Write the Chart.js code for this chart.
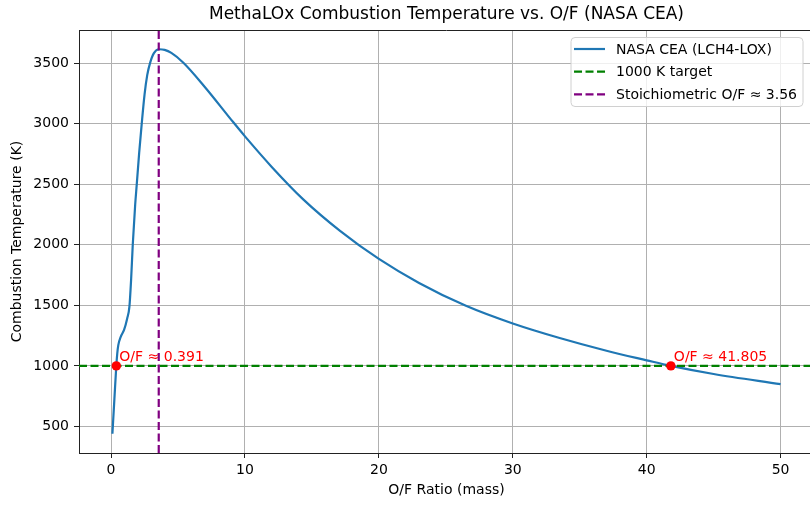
<!DOCTYPE html>
<html>
<head>
<meta charset="utf-8">
<title>MethaLOx Combustion Temperature vs. O/F</title>
<script src="https://cdn.jsdelivr.net/npm/chart.js@4"></script>
<style>
  html, body { margin: 0; padding: 0; background: #fff; overflow: hidden; }
  canvas { display: block; }
</style>
</head>
<body>
<canvas id="myChart" width="840" height="505"></canvas>
<script>
// NASA CEA results for LCH4/LOX: O/F ratio (mass) vs combustion temperature (K)
const ofRatio = [0.1, 0.25, 0.391, 0.46, 0.54, 0.72, 0.97, 1.2, 1.37, 1.5, 1.62, 1.8, 1.92, 2.1, 2.29,
  2.5, 2.7, 2.91, 3.2, 3.6, 4.0, 4.5, 5.4, 7.0, 9.1, 10, 12, 14.35, 17.1, 20, 23, 26.5, 30,
  33.5, 37, 40, 41.805, 45, 50];
const tempK = [440, 730, 1000, 1100, 1172, 1240, 1297, 1390, 1489, 1720, 2000, 2330, 2500, 2760, 3000,
  3240, 3400, 3500, 3582, 3614, 3609, 3584, 3503, 3303, 3015, 2895, 2643, 2375, 2115, 1883, 1685, 1496, 1350,
  1230, 1125, 1046, 1000, 933, 849];

const targetTemp = 1000;          // K
const stoichOF = 3.56;
const crossOF = [0.391, 41.805];  // where the curve meets the target

const xTicks = [0, 10, 20, 30, 40, 50];
const yTicks = [500, 1000, 1500, 2000, 2500, 3000, 3500];
const xLimits = [-2.395, 52.495];
const yLimits = [281, 3773];

const FONT = "'DejaVu Sans', sans-serif";
const TITLE = "MethaLOx Combustion Temperature vs. O/F (NASA CEA)";

// title centred over the plot, plus top/right spines
const framePlugin = {
  id: "frame",
  afterDatasetsDraw(chart) {
    const { ctx, chartArea: a } = chart;
    ctx.save();
    ctx.strokeStyle = "#222";
    ctx.lineWidth = 1;
    ctx.beginPath();
    ctx.moveTo(a.left, a.top + 0.5);
    ctx.lineTo(a.right, a.top + 0.5);
    ctx.moveTo(a.right - 0.5, a.top);
    ctx.lineTo(a.right - 0.5, a.bottom);
    ctx.stroke();
    ctx.fillStyle = "#000";
    ctx.font = "17px " + FONT;
    ctx.textAlign = "center";
    ctx.textBaseline = "middle";
    ctx.fillText(TITLE, (a.left + a.right) / 2, 15);
    ctx.restore();
  }
};

// "O/F ≈ ..." labels next to the crossing points
const crossLabels = {
  id: "crossLabels",
  afterDatasetsDraw(chart) {
    const { ctx, scales } = chart;
    ctx.save();
    ctx.font = "14px " + FONT;
    ctx.fillStyle = "red";
    ctx.textAlign = "left";
    ctx.textBaseline = "alphabetic";
    crossOF.forEach(v => {
      const px = scales.x.getPixelForValue(v);
      const py = scales.y.getPixelForValue(targetTemp);
      ctx.fillText("O/F \u2248 " + v.toFixed(3), px + 3, py - 5);
    });
    ctx.restore();
  }
};

// legend box in the upper right of the plot
const boxLegend = {
  id: "boxLegend",
  afterDraw(chart) {
    const { ctx, chartArea: a } = chart;
    const items = chart.data.datasets.filter(d => d.label);
    ctx.save();
    ctx.font = "14px " + FONT;
    const textW = Math.max(...items.map(d => ctx.measureText(d.label).width));
    const w = 45 + textW + 6;
    const h = 69;
    const x = a.right - 11 - w;
    const y = a.top + 7.5;
    ctx.beginPath();
    ctx.roundRect(x, y, w, h, 4);
    ctx.fillStyle = "rgba(255,255,255,0.8)";
    ctx.fill();
    ctx.strokeStyle = "#d0d0d0";
    ctx.lineWidth = 1;
    ctx.stroke();
    items.forEach((d, i) => {
      const ry = y + 11.5 + i * 22.7;
      ctx.beginPath();
      ctx.setLineDash(d.borderDash || []);
      ctx.strokeStyle = d.borderColor;
      ctx.lineWidth = d.borderWidth;
      ctx.moveTo(x + 3, ry);
      ctx.lineTo(x + 34, ry);
      ctx.stroke();
      ctx.setLineDash([]);
      ctx.fillStyle = "#000";
      ctx.textBaseline = "middle";
      ctx.fillText(d.label, x + 45, ry + 1);
    });
    ctx.restore();
  }
};

const ctx = document.getElementById("myChart").getContext("2d");
const myChart = new Chart(ctx, {
  type: "line",
  data: {
    datasets: [
      {
        label: "NASA CEA (LCH4-LOX)",
        data: ofRatio.map((x, i) => ({ x: x, y: tempK[i] })),
        borderColor: "#1f77b4",
        borderWidth: 2.2,
        pointRadius: 0,
        cubicInterpolationMode: "monotone",
        order: 4,
      },
      {
        label: "1000 K target",
        data: [{ x: xLimits[0], y: targetTemp }, { x: xLimits[1], y: targetTemp }],
        borderColor: "green",
        borderWidth: 2.2,
        borderDash: [8, 3.5],
        pointRadius: 0,
        order: 3,
      },
      {
        label: "Stoichiometric O/F \u2248 " + stoichOF,
        data: [{ x: stoichOF, y: yLimits[0] }, { x: stoichOF, y: yLimits[1] }],
        borderColor: "purple",
        borderWidth: 2.2,
        borderDash: [8, 3.5],
        pointRadius: 0,
        order: 2,
      },
      {
        data: crossOF.map(v => ({ x: v, y: targetTemp })),
        showLine: false,
        pointRadius: 4.7,
        pointBackgroundColor: "red",
        pointBorderColor: "red",
        pointBorderWidth: 0,
        order: 1,
      },
    ],
  },
  options: {
    responsive: false,
    animation: false,
    devicePixelRatio: 1,
    layout: { padding: { left: 0, right: 26, top: 30, bottom: 0 } },
    plugins: {
      legend: { display: false },
      tooltip: { enabled: false },
      title: { display: false },
    },
    scales: {
      x: {
        type: "linear",
        min: xLimits[0],
        max: xLimits[1],
        afterBuildTicks: s => { s.ticks = xTicks.map(v => ({ value: v })); },
        afterFit: s => { s.height = 52; },
        ticks: {
          color: "#000",
          font: { family: FONT, size: 14 },
          padding: 4,
          maxRotation: 0,
          autoSkip: false,
          callback: v => String(v),
        },
        grid: { color: "#b0b0b0", lineWidth: 1, tickColor: "#222", tickLength: 5 },
        border: { color: "#222", width: 1 },
        title: {
          display: true,
          text: "O/F Ratio (mass)",
          color: "#000",
          font: { family: FONT, size: 14 },
          padding: { top: 0, bottom: 6.6 },
        },
      },
      y: {
        type: "linear",
        min: yLimits[0],
        max: yLimits[1],
        afterBuildTicks: s => { s.ticks = yTicks.map(v => ({ value: v })); },
        afterFit: s => { s.width = 79; },
        ticks: {
          color: "#000",
          font: { family: FONT, size: 14 },
          padding: 5,
          autoSkip: false,
          callback: v => String(v),
        },
        grid: { color: "#b0b0b0", lineWidth: 1, tickColor: "#222", tickLength: 5 },
        border: { color: "#222", width: 1 },
        title: {
          display: true,
          text: "Combustion Temperature (K)",
          color: "#000",
          font: { family: FONT, size: 14 },
          padding: { top: 8.6, bottom: 0 },
        },
      },
    },
  },
  plugins: [framePlugin, crossLabels, boxLegend],
});
</script>
</body>
</html>
